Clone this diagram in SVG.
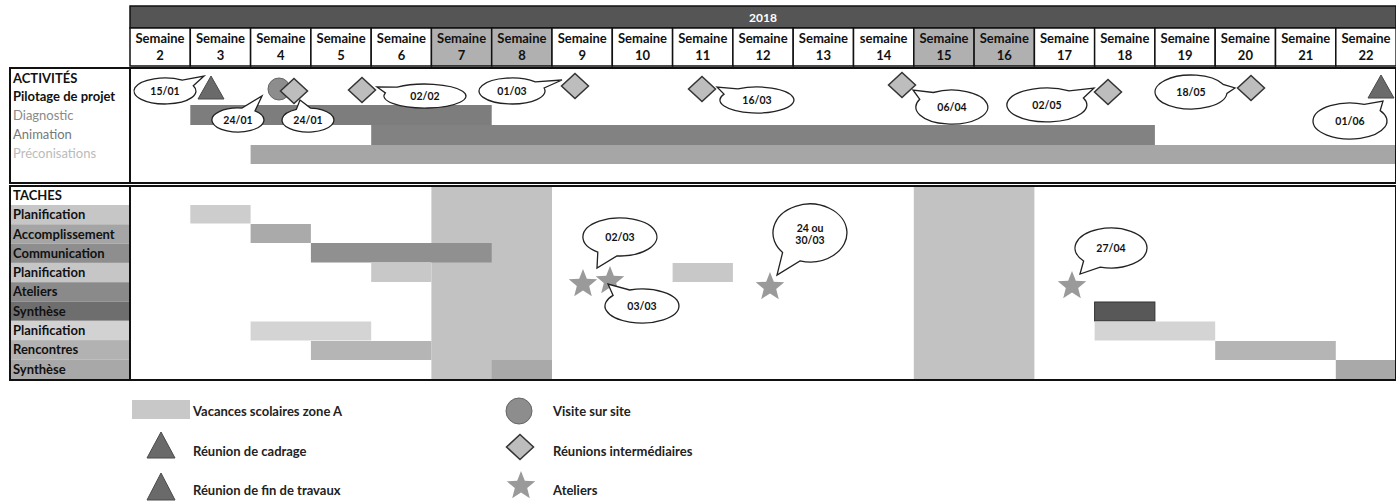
<svg xmlns="http://www.w3.org/2000/svg" xmlns:xlink="http://www.w3.org/1999/xlink" width="1396" height="501" viewBox="0 0 1396 501">
<defs>
<style>
text{font-family:Lato,"Liberation Sans",sans-serif;}
.hd{font-size:13px;font-weight:bold;fill:#111;text-anchor:middle;}
.lb{font-size:13px;font-weight:bold;fill:#111;}
.lbn{font-size:13px;}
.cl{font-size:10.5px;font-weight:bold;fill:#111;text-anchor:middle;}
.call{fill:#fff;stroke:#222;stroke-width:1.3;}
.box{fill:none;stroke:#111;stroke-width:2;}
.cell{stroke:#111;stroke-width:1.5;}
.lg{font-size:13px;font-weight:bold;fill:#222;}
</style>
<path id="star" d="M0,-15 L3.82,-5.26 L14.27,-4.64 L6.18,2.01 L8.82,12.14 L0,6.5 L-8.82,12.14 L-6.18,2.01 L-14.27,-4.64 L-3.82,-5.26 Z" fill="#9a9a9a"/>
<path id="dia" d="M0,-12.5 L13.5,0 L0,12.5 L-13.5,0 Z" fill="#bdbdbd" stroke="#333" stroke-width="1.5"/>
<path id="tri" d="M0,-12 L13,11 L-13,11 Z" fill="#6a6a6a" stroke="#4a4a4a" stroke-width="1"/>
</defs>

<g id="header">
<rect x="130" y="6" width="1266" height="22" fill="#555" stroke="#111" stroke-width="1.5"/>
<text x="763" y="22" font-size="12" font-weight="bold" fill="#fff" text-anchor="middle" style="font-family:Lato,'Liberation Sans',sans-serif">2018</text>
<g id="weeks">
<rect class="cell" x="130" y="28" width="60.3" height="38" fill="#fff"/>
<rect class="cell" x="190.3" y="28" width="60.3" height="38" fill="#fff"/>
<rect class="cell" x="250.6" y="28" width="60.3" height="38" fill="#fff"/>
<rect class="cell" x="310.9" y="28" width="60.3" height="38" fill="#fff"/>
<rect class="cell" x="371.2" y="28" width="60.3" height="38" fill="#fff"/>
<rect class="cell" x="431.4" y="28" width="60.3" height="38" fill="#b0b0b0"/>
<rect class="cell" x="491.7" y="28" width="60.3" height="38" fill="#b0b0b0"/>
<rect class="cell" x="552" y="28" width="60.3" height="38" fill="#fff"/>
<rect class="cell" x="612.3" y="28" width="60.3" height="38" fill="#fff"/>
<rect class="cell" x="672.6" y="28" width="60.3" height="38" fill="#fff"/>
<rect class="cell" x="732.9" y="28" width="60.3" height="38" fill="#fff"/>
<rect class="cell" x="793.2" y="28" width="60.3" height="38" fill="#fff"/>
<rect class="cell" x="853.5" y="28" width="60.3" height="38" fill="#fff"/>
<rect class="cell" x="913.8" y="28" width="60.3" height="38" fill="#b0b0b0"/>
<rect class="cell" x="974.1" y="28" width="60.3" height="38" fill="#b0b0b0"/>
<rect class="cell" x="1034.4" y="28" width="60.3" height="38" fill="#fff"/>
<rect class="cell" x="1094.6" y="28" width="60.3" height="38" fill="#fff"/>
<rect class="cell" x="1154.9" y="28" width="60.3" height="38" fill="#fff"/>
<rect class="cell" x="1215.2" y="28" width="60.3" height="38" fill="#fff"/>
<rect class="cell" x="1275.5" y="28" width="60.3" height="38" fill="#fff"/>
<rect class="cell" x="1335.8" y="28" width="60.3" height="38" fill="#fff"/>
</g>
<g class="hdtext">
<text class="hd" x="160" y="43">Semaine</text><text class="hd" x="160" y="60">2</text>
<text class="hd" x="220.5" y="43">Semaine</text><text class="hd" x="220.5" y="60">3</text>
<text class="hd" x="280.8" y="43">Semaine</text><text class="hd" x="280.8" y="60">4</text>
<text class="hd" x="341.1" y="43">Semaine</text><text class="hd" x="341.1" y="60">5</text>
<text class="hd" x="401.4" y="43">Semaine</text><text class="hd" x="401.4" y="60">6</text>
<text class="hd" x="461.6" y="43">Semaine</text><text class="hd" x="461.6" y="60">7</text>
<text class="hd" x="521.9" y="43">Semaine</text><text class="hd" x="521.9" y="60">8</text>
<text class="hd" x="582.2" y="43">Semaine</text><text class="hd" x="582.2" y="60">9</text>
<text class="hd" x="642.5" y="43">Semaine</text><text class="hd" x="642.5" y="60">10</text>
<text class="hd" x="702.8" y="43">Semaine</text><text class="hd" x="702.8" y="60">11</text>
<text class="hd" x="763.1" y="43">Semaine</text><text class="hd" x="763.1" y="60">12</text>
<text class="hd" x="823.4" y="43">Semaine</text><text class="hd" x="823.4" y="60">13</text>
<text class="hd" x="883.7" y="43">semaine</text><text class="hd" x="883.7" y="60">14</text>
<text class="hd" x="944" y="43">Semaine</text><text class="hd" x="944" y="60">15</text>
<text class="hd" x="1004.3" y="43">Semaine</text><text class="hd" x="1004.3" y="60">16</text>
<text class="hd" x="1064.5" y="43">Semaine</text><text class="hd" x="1064.5" y="60">17</text>
<text class="hd" x="1124.8" y="43">Semaine</text><text class="hd" x="1124.8" y="60">18</text>
<text class="hd" x="1185.1" y="43">Semaine</text><text class="hd" x="1185.1" y="60">19</text>
<text class="hd" x="1245.4" y="43">Semaine</text><text class="hd" x="1245.4" y="60">20</text>
<text class="hd" x="1305.7" y="43">Semaine</text><text class="hd" x="1305.7" y="60">21</text>
<text class="hd" x="1366" y="43">Semaine</text><text class="hd" x="1366" y="60">22</text>
</g>
</g>

<g id="activites">
<rect x="10" y="68" width="1386" height="115" fill="#fff"/>
<rect x="190.3" y="105" width="301.4" height="20" fill="#7d7d7d"/>
<rect x="371.2" y="125" width="783.7" height="20" fill="#828282"/>
<rect x="250.6" y="145" width="1145.4" height="19" fill="#a6a6a6"/>
<rect class="box" x="10" y="68" width="1386" height="115"/>
<line x1="130" y1="68" x2="130" y2="183" stroke="#111" stroke-width="2"/>
<text class="lb" x="13" y="83">ACTIVITÉS</text>
<text class="lb" x="13" y="101">Pilotage de projet</text>
<text class="lbn" x="13" y="120" fill="#8a8a8a">Diagnostic</text>
<text class="lbn" x="13" y="139" fill="#777">Animation</text>
<text class="lbn" x="13" y="158" fill="#bbb">Préconisations</text>
</g>

<g id="jalons">
<use href="#tri" x="211" y="88"/>
<circle cx="279" cy="89" r="11" fill="#8d8d8d" stroke="#666" stroke-width="1"/>
<use href="#dia" x="294" y="91"/>
<use href="#dia" x="362" y="90"/>
<use href="#dia" x="575" y="86"/>
<use href="#dia" x="702" y="89"/>
<use href="#dia" x="902" y="85"/>
<use href="#dia" x="1108" y="92"/>
<use href="#dia" x="1251" y="88"/>
<use href="#tri" x="1381" y="87"/>
</g>

<g id="bulles-activites">
<path class="call" d="M193.3,85.7 A31,13 0 1 1 182.3,80.2 L204,76 Z"/><text class="cl" x="165" y="95">15/01</text>
<path class="call" d="M255.0,110.9 A26,12 0 1 1 241.9,108.1 L262,96 Z"/><text class="cl" x="238" y="124">24/01</text>
<path class="call" d="M310.5,108.1 A26,12 0 1 1 296.4,109.3 L300,100 Z"/><text class="cl" x="308" y="124">24/01</text>
<path class="call" d="M397.2,87.2 A41,12 0 1 1 385.4,92.9 L377,87 Z"/><text class="cl" x="425" y="100">02/02</text>
<path class="call" d="M544.1,88.0 A33,13 0 1 1 535.3,81.8 L562,80 Z"/><text class="cl" x="512" y="95">01/03</text>
<path class="call" d="M737.8,88.9 A37,13 0 1 1 724.0,94.1 L717,87 Z"/><text class="cl" x="757" y="104">16/03</text>
<path class="call" d="M933.3,92.5 A36,17 0 1 1 919.8,99.3 L913,90 Z"/><text class="cl" x="952" y="111">06/04</text>
<path class="call" d="M1083.4,98.0 A40,17 0 1 1 1069.1,90.8 L1094,88 Z"/><text class="cl" x="1047" y="109">02/05</text>
<path class="call" d="M1226.9,93.5 A36,17 0 1 1 1223.1,84.3 L1235,88 Z"/><text class="cl" x="1191" y="96">18/05</text>
<path class="call" d="M1380.2,110.6 A37,18 0 1 1 1364.3,104.4 L1383,101 Z"/><text class="cl" x="1350" y="125">01/06</text>
</g>

<g id="taches">
<rect x="10" y="186" width="1386" height="194" fill="#fff"/>
<rect x="431.4" y="186" width="120.6" height="194" fill="#c2c2c2"/>
<rect x="913.8" y="186" width="120.6" height="194" fill="#c2c2c2"/>
<rect x="190.3" y="205" width="60.3" height="18.5" fill="#cdcdcd"/>
<rect x="250.6" y="224" width="60.3" height="19" fill="#aaaaaa"/>
<rect x="310.9" y="243" width="180.8" height="19.5" fill="#909090"/>
<rect x="371.2" y="263" width="60.2" height="19" fill="#c8c8c8"/>
<rect x="672.6" y="263" width="60.3" height="19" fill="#c8c8c8"/>
<rect x="1094.6" y="302" width="60.3" height="19" fill="#585858" stroke="#333" stroke-width="1"/>
<rect x="250.6" y="321.5" width="120.6" height="19" fill="#d4d4d4"/>
<rect x="1094.6" y="321.5" width="120.6" height="19" fill="#d4d4d4"/>
<rect x="310.9" y="341" width="120.5" height="19" fill="#b5b5b5"/>
<rect x="1215.2" y="341" width="120.6" height="19" fill="#b5b5b5"/>
<rect x="491.7" y="360" width="60.3" height="19" fill="#a9a9a9"/>
<rect x="1335.8" y="360" width="60.2" height="19" fill="#a9a9a9"/>
<g id="labels-taches">
<rect x="11" y="205" width="119" height="19.3" fill="#c6c6c6"/>
<rect x="11" y="224.3" width="119" height="19.3" fill="#a5a5a5"/>
<rect x="11" y="243.6" width="119" height="19.3" fill="#8e8e8e"/>
<rect x="11" y="262.9" width="119" height="19.3" fill="#c6c6c6"/>
<rect x="11" y="282.2" width="119" height="19.3" fill="#8a8a8a"/>
<rect x="11" y="301.5" width="119" height="19.3" fill="#6e6e6e"/>
<rect x="11" y="320.8" width="119" height="19.3" fill="#d2d2d2"/>
<rect x="11" y="340.1" width="119" height="19.3" fill="#b2b2b2"/>
<rect x="11" y="359.4" width="119" height="20" fill="#a8a8a8"/>
<text class="lb" x="13" y="200">TACHES</text>
<text class="lb" x="13" y="219">Planification</text>
<text class="lb" x="13" y="238.5">Accomplissement</text>
<text class="lb" x="13" y="257.8">Communication</text>
<text class="lb" x="13" y="277">Planification</text>
<text class="lb" x="13" y="296.4">Ateliers</text>
<text class="lb" x="13" y="315.7" fill="#999">Synthèse</text>
<text class="lb" x="13" y="335">Planification</text>
<text class="lb" x="13" y="354.3">Rencontres</text>
<text class="lb" x="13" y="373.6">Synthèse</text>
</g>
<rect class="box" x="10" y="186" width="1386" height="194"/>
<line x1="130" y1="186" x2="130" y2="380" stroke="#111" stroke-width="2"/>
</g>

<g id="ateliers">
<use href="#star" x="583" y="284"/>
<use href="#star" x="610" y="281"/>
<use href="#star" x="770" y="287"/>
<use href="#star" x="1072" y="286"/>
</g>

<g id="bulles-taches">
<path class="call" d="M597.8,252.2 A37,19 0 1 1 616.9,255.9 L597,268 Z"/><text class="cl" x="620" y="241">02/03</text>
<path class="call" d="M629.7,290.0 A37,17 0 1 1 613.1,295.4 L608,284 Z"/><text class="cl" x="642" y="310">03/03</text>
<path class="call" d="M782.6,252.5 A37,29 0 1 1 800.0,260.9 L777,275 Z"/><text class="cl" x="810" y="232">24 ou</text><text class="cl" x="810" y="244">30/03</text>
<path class="call" d="M1083.6,261.0 A36,20 0 1 1 1100.2,267.1 L1080,274 Z"/><text class="cl" x="1111" y="252">27/04</text>
</g>

<g id="legende">
<rect x="132" y="400" width="58" height="19" fill="#c8c8c8"/>
<text class="lg" x="193" y="416">Vacances scolaires zone A</text>
<path d="M161,432 L175,458 L147,458 Z" fill="#6a6a6a" stroke="#4a4a4a" stroke-width="1"/>
<text class="lg" x="193" y="456">Réunion de cadrage</text>
<path d="M161,473 L175,500 L147,500 Z" fill="#6a6a6a" stroke="#4a4a4a" stroke-width="1"/>
<text class="lg" x="193" y="495">Réunion de fin de travaux</text>
<circle cx="519" cy="411" r="13" fill="#8d8d8d" stroke="#666" stroke-width="1"/>
<text class="lg" x="553" y="416">Visite sur site</text>
<use href="#dia" x="520" y="447"/>
<text class="lg" x="553" y="456">Réunions intermédiaires</text>
<use href="#star" x="521" y="486"/>
<text class="lg" x="553" y="495">Ateliers</text>
</g>
</svg>
